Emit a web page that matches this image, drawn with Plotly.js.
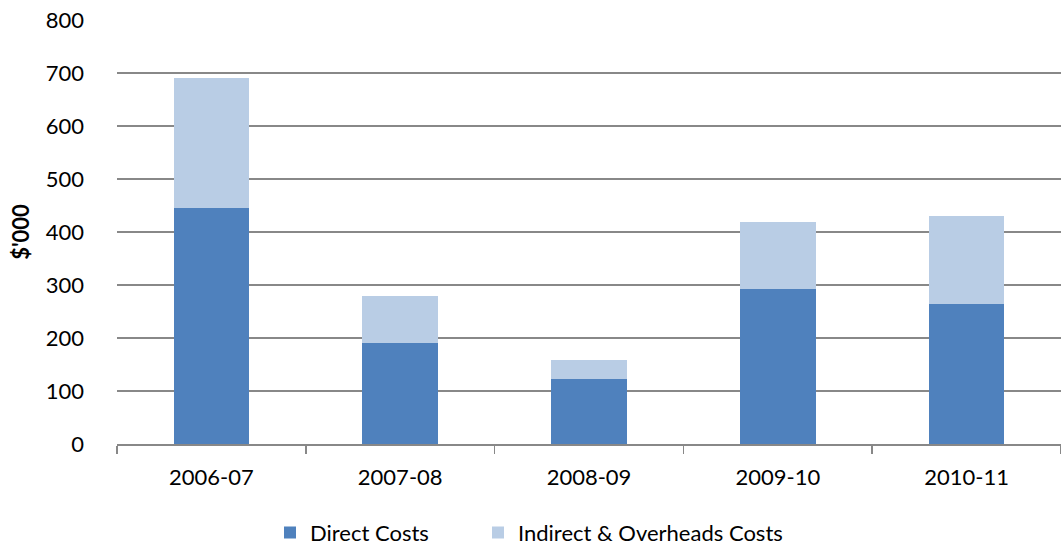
<!DOCTYPE html>
<html><head><meta charset="utf-8">
<script src="https://cdn.plot.ly/plotly-3.0.1.min.js"></script>
<style>html,body{margin:0;padding:0;background:#fff}#chart{width:1061px;height:547px}</style>
</head><body><div id="chart"></div>
<script>
const categories = ["2006-07", "2007-08", "2008-09", "2009-10", "2010-11"];
const directCosts = [445, 191, 122, 292, 265];
const indirectCosts = [245, 88, 36, 126, 165];
const yTicks = [0, 100, 200, 300, 400, 500, 600, 700, 800];

const fam = "Lato, 'Open Sans', sans-serif";
const font = {family: fam, size: 22, color: "#000"};
const traces = [
  {type: "bar", name: "Direct Costs", x: categories, y: directCosts, marker: {color: "#4F81BD"}, legend: "legend"},
  {type: "bar", name: "Indirect & Overheads Costs", x: categories, y: indirectCosts, marker: {color: "#B9CDE5"}, legend: "legend2"}
];
const legBase = {orientation: "h", xanchor: "left", xref: "container", y: 0.026, yanchor: "middle", yref: "container",
                 font: font, itemclick: false, itemwidth: 30, bgcolor: "rgba(0,0,0,0)"};
const layout = {
  width: 1061, height: 547,
  margin: {l: 117, r: 0, t: 20, b: 103},
  barmode: "stack", bargap: 0.6,
  paper_bgcolor: "#fff", plot_bgcolor: "#fff",
  font: font,
  showlegend: true,
  legend: Object.assign({}, legBase, {x: 270 / 1061}),
  legend2: Object.assign({}, legBase, {x: 478 / 1061}),
  xaxis: {type: "category", tickson: "boundaries", ticks: "outside", ticklen: 8, tickcolor: "#888", tickwidth: 1.5,
          showline: true, linecolor: "#888", linewidth: 1.5, showgrid: false, ticklabelstandoff: 13, tickfont: font},
  yaxis: {range: [0, 800], tickvals: yTicks, ticktext: yTicks.map(String), showgrid: true, gridcolor: "#888", gridwidth: 1.5,
          zeroline: false, showline: false, ticks: "", ticklabelstandoff: 32, tickfont: font,
          title: {text: "<b>$'000</b>", font: {family: fam, size: 22, color: "#000"}, standoff: 10}}
};
Plotly.newPlot("chart", traces, layout, {displayModeBar: false, staticPlot: true});
</script></body></html>
